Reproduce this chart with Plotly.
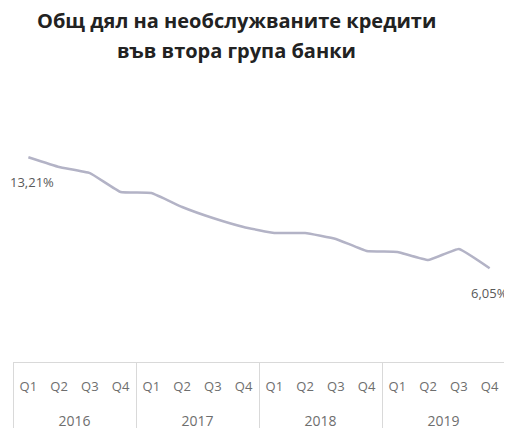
import plotly.graph_objects as go

years = ["2016"] * 4 + ["2017"] * 4 + ["2018"] * 4 + ["2019"] * 4
quarters = ["Q1", "Q2", "Q3", "Q4"] * 4
values = [13.21, 12.58, 12.19, 10.97, 10.90, 10.00, 9.29, 8.71,
          8.32, 8.32, 7.94, 7.16, 7.10, 6.58, 7.29, 6.05]
title_lines = ["Общ дял на необслужваните кредити", "във втора група банки"]

year_labels = ["<br><span style='font-size:14px'>" + y + "</span>" for y in years]
quarter_labels = ["<span style='font-size:13px'>" + q + "</span>" for q in quarters]

fig = go.Figure()
fig.add_trace(go.Scatter(
    x=[year_labels, quarter_labels], y=values, mode="lines",
    line=dict(color="#B3B3C6", width=2.5, shape="spline", smoothing=0.3),
    hoverinfo="skip", showlegend=False,
))

for idx, shift in ((0, 4), (len(values) - 1, 0)):
    fig.add_annotation(
        x=idx, y=values[idx], xref="x", yref="y",
        text=f"{values[idx]:.2f}%".replace(".", ","),
        showarrow=False, yshift=-25, xshift=shift,
        font=dict(family="Open Sans", size=13, color="#595959"),
    )

for line, ypos in zip(title_lines, (1.379, 1.258)):
    fig.add_annotation(
        x=0.455, y=ypos, xref="paper", yref="paper", xanchor="center", yanchor="middle",
        text="<b>" + line + "</b>", showarrow=False,
        font=dict(family="Open Sans", size=20, color="#222222"),
    )

fig.update_layout(
    width=504, height=420,
    margin=dict(l=5, r=7, t=106, b=66),
    paper_bgcolor="white", plot_bgcolor="white",
    xaxis=dict(type="multicategory", showgrid=False, zeroline=False,
               automargin=False, range=[-0.5, 15.5],
               showline=True, linecolor="#D9D9D9", linewidth=1,
               showdividers=True, dividercolor="#D9D9D9", dividerwidth=1,
               ticklabelstandoff=8,
               tickfont=dict(family="Open Sans", size=17, color="#6E6E6E"),
               ticks=""),
    yaxis=dict(range=[0, 16], visible=False, showgrid=False, zeroline=False,
               automargin=False),
)

fig.write_html("out.html")
